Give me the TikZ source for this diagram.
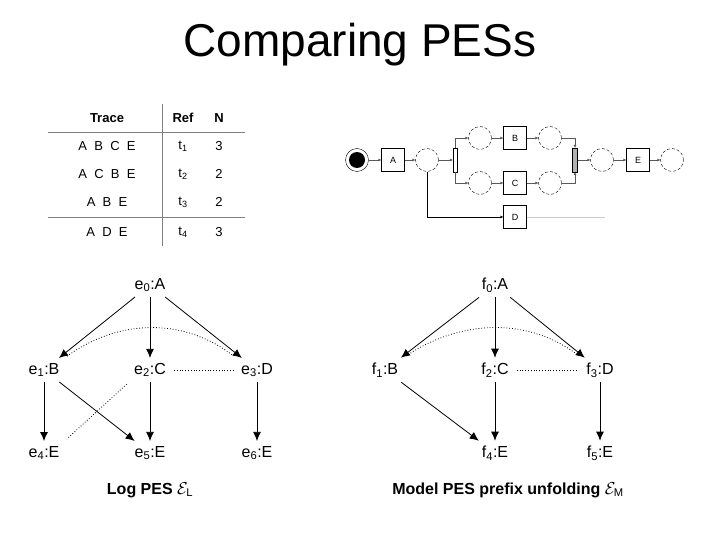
\documentclass[tikz,border=0pt]{standalone}
\usepackage{fontspec}
\setmainfont{Liberation Sans}
\usetikzlibrary{arrows.meta}
\usetikzlibrary{positioning}
\tikzset{ev/.style = {font=\fontsize{16}{18}\selectfont, inner sep=5pt},
  ord/.style = {-{Latex[length=9pt,width=8pt]}, thick},
  cfl/.style = {dotted, thick, shorten >=3pt, shorten <=3pt},
  plc/.style = {draw, circle, minimum size=23, inner sep=0, densely dashed},
  trn/.style = {draw, fill=white, minimum size=23, inner sep=0, font=\small},
  arc/.style = {-{Latex[length=3pt,width=3pt]}, gray!70!black},
  cell/.style = {font=\fontsize{13}{15}\selectfont, inner sep=0}}
\begin{document}
\begin{tikzpicture}[x=1pt, y=-1pt]
  \useasboundingbox (0,0) rectangle (720,540);

  \node [font=\fontsize{46}{50}\selectfont] (title) at (360,45) {Comparing PESs};

  % trace table
  \node [cell, font=\fontsize{13}{15}\bfseries] (hTrace) at (107,118) {Trace};
  \node [cell, font=\fontsize{13}{15}\bfseries] (hRef) at (183,118) {Ref};
  \node [cell, font=\fontsize{13}{15}\bfseries] (hN) at (219,118) {N};
  \draw [gray] (48,132) -- (245,132);
  \draw [gray] (48,217) -- (245,217);
  \draw [gray] (162,104) -- (162,246);
  \node [cell] (r1) at (107,146) {A\ \ B\ \ C\ \ E};
  \node [cell] at (183,146) {t\textsubscript{1}};
  \node [cell] at (219,146) {3};
  \node [cell] (r2) at (107,174) {A\ \ C\ \ B\ \ E};
  \node [cell] at (183,174) {t\textsubscript{2}};
  \node [cell] at (219,174) {2};
  \node [cell] (r3) at (107,202) {A\ \ B\ \ E};
  \node [cell] at (183,202) {t\textsubscript{3}};
  \node [cell] at (219,202) {2};
  \node [cell] (r4) at (107,232) {A\ \ D\ \ E};
  \node [cell] at (183,232) {t\textsubscript{4}};
  \node [cell] at (219,232) {3};

  % process model
  \node [plc, solid] (start) at (357,160) {};
  \fill (start) circle (8);
  \node [trn] (tA) at (393,160) {A};
  \node [plc] (p1) at (427,160) {};
  \node [draw, fill=white, minimum width=4, minimum height=24, inner sep=0] (split) at (455,160) {};
  \node [plc] (p2) at (480,138) {};
  \node [trn] (tB) at (515,138) {B};
  \node [plc] (p3) at (550,138) {};
  \node [plc] (p4) at (480,183) {};
  \node [trn] (tC) at (515,183) {C};
  \node [plc] (p5) at (550,183) {};
  \node [draw, fill=gray!60, minimum width=5, minimum height=24, inner sep=0] (join) at (575,160) {};
  \node [plc] (p6) at (602,160) {};
  \node [trn] (tE) at (638,160) {E};
  \node [plc] (end) at (672,160) {};
  \node [trn] (tD) at (515,217) {D};
  \coordinate (dEnd) at (605,217);
  \draw [arc] (start) -- (tA);
  \draw [arc] (tA) -- (p1);
  \draw [arc] (p1) -- (split);
  \draw [arc] (split.north) |- (p2);
  \draw [arc] (split.south) |- (p4);
  \draw [arc] (p2) -- (tB);
  \draw [arc] (tB) -- (p3);
  \draw [arc] (p4) -- (tC);
  \draw [arc] (tC) -- (p5);
  \draw [arc] (p3) -| (join.north);
  \draw [arc] (p5) -| (join.south);
  \draw [arc] (join) -- (p6);
  \draw [arc] (p6) -- (tE);
  \draw [arc] (tE) -- (end);
  \draw [arc, black] (p1.south) |- (tD);
  \draw [gray!40] (tD) -- (dEnd);

  % log PES
  \node [ev] (e0) at (150,285) {e\textsubscript{0}:A};
  \node [ev] (e1) at (44,370) {e\textsubscript{1}:B};
  \node [ev] (e2) at (150,370) {e\textsubscript{2}:C};
  \node [ev] (e3) at (257,370) {e\textsubscript{3}:D};
  \node [ev] (e4) at (44,453) {e\textsubscript{4}:E};
  \node [ev] (e5) at (150,453) {e\textsubscript{5}:E};
  \node [ev] (e6) at (257,453) {e\textsubscript{6}:E};
  \draw [ord] (e0) -- (e1);
  \draw [ord] (e0) -- (e2);
  \draw [ord] (e0) -- (e3);
  \draw [ord] (e1) -- (e4);
  \draw [ord] (e1) -- (e5);
  \draw [ord] (e2) -- (e5);
  \draw [ord] (e3) -- (e6);
  \draw [cfl] (e1.north east) .. controls (120,318) and (185,318) .. (e3.north west);
  \draw [cfl] (e2) -- (e3);
  \draw [cfl] (e2.south west) -- (e4.north east);
  \node [font=\fontsize{16}{18}\bfseries] (logL) at (150,490) {Log PES $\mathcal{E}_{\mathrm{L}}$};

  % model PES
  \node [ev] (f0) at (495,285) {f\textsubscript{0}:A};
  \node [ev] (f1) at (385,370) {f\textsubscript{1}:B};
  \node [ev] (f2) at (495,370) {f\textsubscript{2}:C};
  \node [ev] (f3) at (600,370) {f\textsubscript{3}:D};
  \node [ev] (f4) at (495,453) {f\textsubscript{4}:E};
  \node [ev] (f5) at (600,453) {f\textsubscript{5}:E};
  \draw [ord] (f0) -- (f1);
  \draw [ord] (f0) -- (f2);
  \draw [ord] (f0) -- (f3);
  \draw [ord] (f1) -- (f4);
  \draw [ord] (f2) -- (f4);
  \draw [ord] (f3) -- (f5);
  \draw [cfl] (f1.north east) .. controls (463,318) and (530,318) .. (f3.north west);
  \draw [cfl] (f2) -- (f3);
  \node [font=\fontsize{16}{18}\bfseries] (modM) at (508,490) {Model PES prefix unfolding $\mathcal{E}_{\mathrm{M}}$};
\end{tikzpicture}
\end{document}
